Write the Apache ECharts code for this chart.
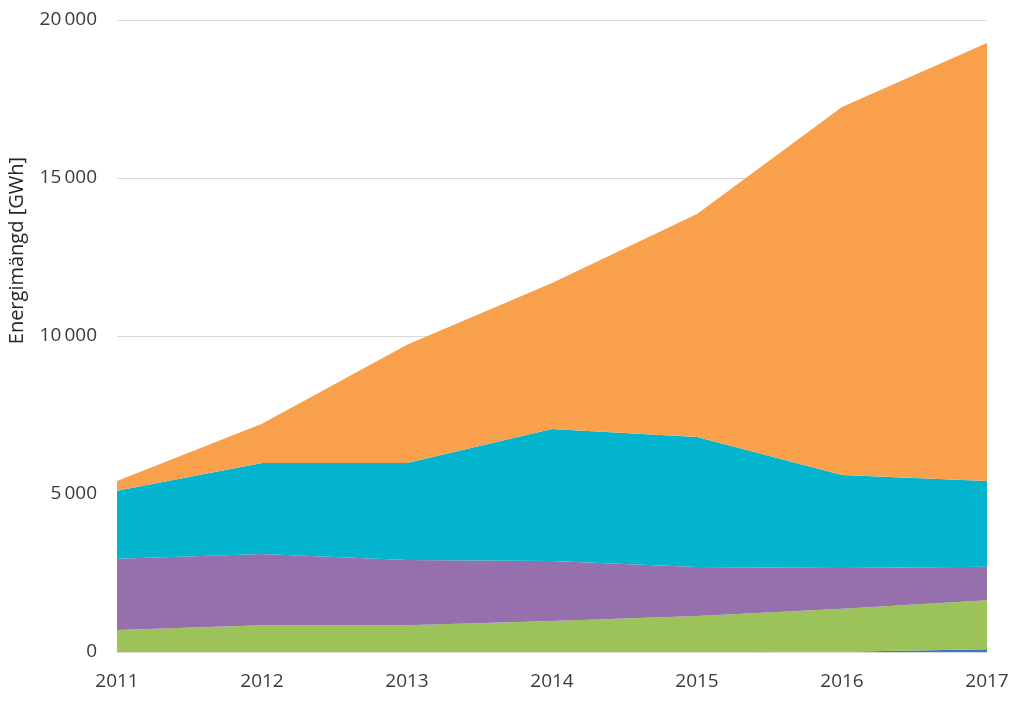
<!DOCTYPE html>
<html>
<head>
<meta charset="utf-8">
<script src="https://cdn.jsdelivr.net/npm/echarts@6/dist/echarts.min.js"></script>
<style>html,body{margin:0;padding:0;background:#fff}#c{width:1024px;height:706px}</style>
</head>
<body>
<div id="c"></div>
<script>
var years = ['2011', '2012', '2013', '2014', '2015', '2016', '2017'];
var yTicks = [0, 5000, 10000, 15000, 20000];
var solkraft = [0, 0, 0, 0, 0, 5, 90];
var ovrigt = [0, 0, 0, 0, 0, 0, 0];
var torv = [700, 850, 850, 980, 1140, 1360, 1550];
var vattenkraft = [2250, 2250, 2060, 1900, 1550, 1295, 1060];
var biobransle = [2150, 2880, 3070, 4180, 4110, 2940, 2710];
var vindkraft = [310, 1240, 3740, 4620, 7060, 11650, 13860];

var seriesDefs = [
  {name: 'Solkraft', data: solkraft, color: '#3a78c2'},
  {name: 'Övrigt', data: ovrigt, color: '#c0504d'},
  {name: 'Torv', data: torv, color: '#9bc35a'},
  {name: 'Vattenkraft', data: vattenkraft, color: '#9570ad'},
  {name: 'Biobränsle', data: biobransle, color: '#02b4cd'},
  {name: 'Vindkraft', data: vindkraft, color: '#f8a04b'}
];

var chart = echarts.init(document.getElementById('c'));
var font = '"Open Sans", "Liberation Sans", sans-serif';
chart.setOption({
  animation: false,
  textStyle: {fontFamily: font},
  grid: {left: 117, right: 37, top: 20, bottom: 54, containLabel: false},
  legend: {
    orient: 'vertical', left: 1020, top: 54, itemWidth: 12, itemHeight: 12, itemGap: 73,
    icon: 'rect',
    data: seriesDefs.map(function (s) { return s.name; }).reverse(),
    textStyle: {fontSize: 14, color: '#595959'}
  },
  xAxis: {
    type: 'category', data: years, boundaryGap: false,
    axisLine: {show: true, lineStyle: {color: '#d9d9d9', width: 1}},
    axisTick: {show: false},
    axisLabel: {color: '#3a3a3a', fontSize: 19, margin: 20, fontFamily: font}
  },
  yAxis: {
    type: 'value', min: 0, max: 20000, interval: 5000,
    axisLine: {show: false}, axisTick: {show: false},
    splitLine: {lineStyle: {color: '#d9d9d9', width: 1}},
    axisLabel: {
      color: '#3a3a3a', fontSize: 19, margin: 20, fontFamily: font,
      formatter: function (v) { return String(v).replace(/\B(?=(\d{3})+(?!\d))/g, '\u2009'); }
    }
  },
  graphic: [{
    type: 'text', left: 7, top: 157, rotation: Math.PI / 2,
    style: {text: 'Energimängd [GWh]', fontSize: 20, fill: '#262626', fontFamily: font}
  }],
  series: seriesDefs.map(function (s) {
    return {
      name: s.name, type: 'line', stack: 'total', data: s.data,
      symbol: 'none', lineStyle: {width: 0}, itemStyle: {color: s.color},
      areaStyle: {color: s.color, opacity: 1}
    };
  })
});
</script>
</body>
</html>
